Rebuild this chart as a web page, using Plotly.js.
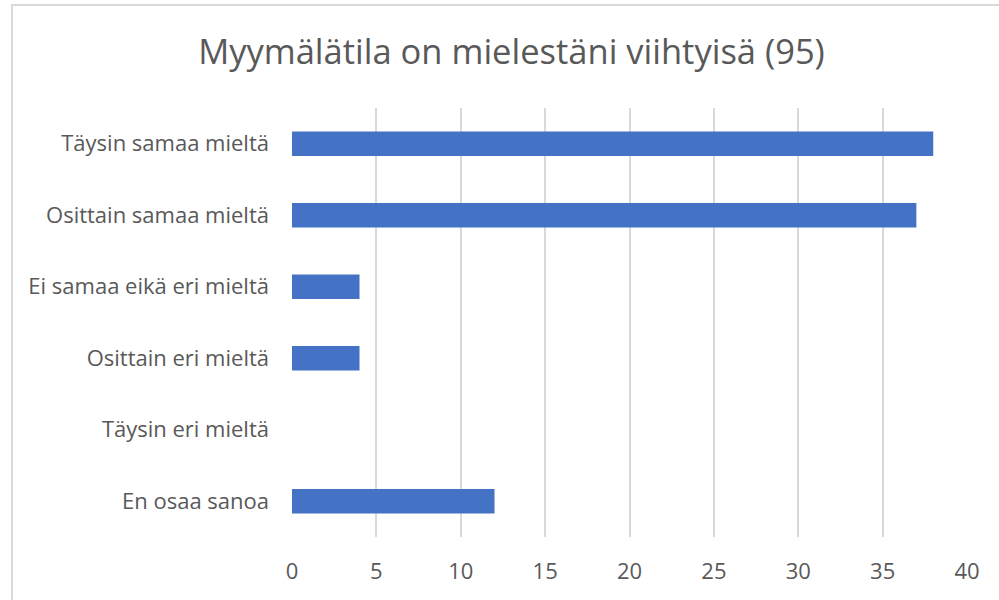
<!DOCTYPE html>
<html>
<head>
<meta charset="utf-8">
<script src="https://cdn.plot.ly/plotly-3.0.1.min.js"></script>
<style>
  body { margin: 0; background: #fff; }
  #frame {
    position: absolute; left: 11px; top: 4px; right: 0; bottom: 0;
    border-left: 2px solid #d9d9d9; border-top: 2px solid #d9d9d9;
  }
  #chart { position: absolute; left: 0; top: 0; width: 999px; height: 600px; }
</style>
</head>
<body>
<div id="frame"></div>
<div id="chart"></div>
<script>
// Answer options, top to bottom as shown
let answers = [
  "Täysin samaa mieltä",
  "Osittain samaa mieltä",
  "Ei samaa eikä eri mieltä",
  "Osittain eri mieltä",
  "Täysin eri mieltä",
  "En osaa sanoa"
];

// Number of respondents per option (total 95)
let counts = [38, 37, 4, 4, 0, 12];

let xTicks = [0, 5, 10, 15, 20, 25, 30, 35, 40];

let trace1 = {
  type: "bar",
  orientation: "h",
  x: counts,
  y: answers,
  width: 0.34,
  marker: { color: "#4472c4" },
  hoverinfo: "x+y"
};

let layout = {
  width: 999,
  height: 600,
  paper_bgcolor: "rgba(0,0,0,0)",
  plot_bgcolor: "rgba(0,0,0,0)",
  font: { family: "Open Sans, sans-serif", color: "#595959", size: 16 },
  title: {
    text: "Myymälätila on mielestäni viihtyisä (95)",
    font: { size: 34.5, color: "#595959" },
    x: 0.512,
    xanchor: "center",
    y: 0.913,
    yanchor: "middle"
  },
  margin: { l: 292, r: 32, t: 108, b: 63 },
  showlegend: false,
  xaxis: {
    range: [0, 40],
    tickvals: xTicks,
    showgrid: true,
    gridcolor: "#d9d9d9",
    gridwidth: 1.5,
    zeroline: false,
    showline: false,
    ticks: "",
    ticklabelstandoff: 19,
    tickfont: { size: 22 },
    fixedrange: true
  },
  yaxis: {
    autorange: "reversed",
    showgrid: false,
    zeroline: false,
    showline: false,
    ticks: "",
    ticklabelstandoff: 22,
    tickfont: { size: 22 },
    fixedrange: true
  }
};

Plotly.newPlot("chart", [trace1], layout, { displayModeBar: false });
</script>
</body>
</html>
